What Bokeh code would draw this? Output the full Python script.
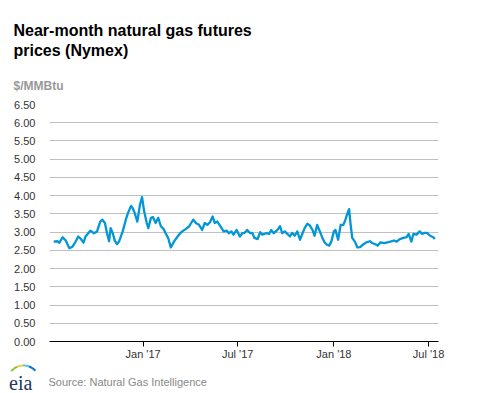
import numpy as np
import pandas as pd
from bokeh.plotting import figure
from bokeh.layouts import column
from bokeh.models import (Range1d, FixedTicker, NumeralTickFormatter, DatetimeTickFormatter, Label)
from bokeh.embed import file_html
from bokeh.resources import INLINE

# ---- data ----
dates = [
    "2016-07-14", "2016-07-21", "2016-07-25", "2016-07-31", "2016-08-06", "2016-08-13", "2016-08-19",
    "2016-08-25", "2016-08-30", "2016-09-04", "2016-09-09", "2016-09-13", "2016-09-22", "2016-09-29",
    "2016-10-05", "2016-10-11", "2016-10-15", "2016-10-20", "2016-10-24", "2016-10-28", "2016-10-31",
    "2016-11-04", "2016-11-08", "2016-11-12", "2016-11-16", "2016-11-23", "2016-11-29", "2016-12-03",
    "2016-12-09", "2016-12-12", "2016-12-16", "2016-12-21", "2016-12-26", "2016-12-30", "2017-01-03",
    "2017-01-08", "2017-01-11", "2017-01-16", "2017-01-20", "2017-01-25", "2017-01-30", "2017-02-04",
    "2017-02-09", "2017-02-13", "2017-02-18", "2017-02-23", "2017-03-01", "2017-03-08", "2017-03-13",
    "2017-03-17", "2017-03-24", "2017-03-30", "2017-04-03", "2017-04-07", "2017-04-12", "2017-04-18",
    "2017-04-24", "2017-04-29", "2017-05-04", "2017-05-09", "2017-05-14", "2017-05-18", "2017-05-23",
    "2017-05-29", "2017-06-04", "2017-06-10", "2017-06-14", "2017-06-19", "2017-06-23", "2017-06-29",
    "2017-07-05", "2017-07-10", "2017-07-14", "2017-07-19", "2017-07-25", "2017-07-29", "2017-08-02",
    "2017-08-08", "2017-08-13", "2017-08-17", "2017-08-24", "2017-08-30", "2017-09-03", "2017-09-08",
    "2017-09-15", "2017-09-20", "2017-09-24", "2017-09-29", "2017-10-04", "2017-10-09", "2017-10-13",
    "2017-10-18", "2017-10-23", "2017-10-28", "2017-11-02", "2017-11-06", "2017-11-11", "2017-11-16",
    "2017-11-21", "2017-11-25", "2017-11-30", "2017-12-05", "2017-12-10", "2017-12-14", "2017-12-18",
    "2017-12-23", "2017-12-27", "2018-01-01", "2018-01-04", "2018-01-09", "2018-01-14", "2018-01-19",
    "2018-01-23", "2018-01-27", "2018-01-30", "2018-02-02", "2018-02-05", "2018-02-10", "2018-02-15",
    "2018-02-20", "2018-02-26", "2018-03-04", "2018-03-11", "2018-03-15", "2018-03-22", "2018-03-26",
    "2018-03-31", "2018-04-07", "2018-04-13", "2018-04-19", "2018-04-26", "2018-05-01", "2018-05-07",
    "2018-05-14", "2018-05-20", "2018-05-24", "2018-05-29", "2018-06-02", "2018-06-08", "2018-06-14",
    "2018-06-19", "2018-06-23", "2018-06-28", "2018-07-04", "2018-07-10", "2018-07-13",
]
prices = [
    2.74, 2.75, 2.71, 2.86, 2.77, 2.56, 2.60,
    2.74, 2.88, 2.81, 2.71, 2.88, 3.04, 2.97,
    3.02, 3.29, 3.34, 3.25, 2.97, 2.75, 3.11,
    2.97, 2.76, 2.67, 2.74, 3.02, 3.34, 3.52,
    3.72, 3.66, 3.52, 3.29, 3.75, 3.96, 3.57,
    3.25, 3.11, 3.39, 3.41, 3.25, 3.39, 3.16,
    3.09, 2.97, 2.84, 2.58, 2.74, 2.88, 2.97,
    3.02, 3.09, 3.16, 3.25, 3.34, 3.25, 3.20,
    3.06, 3.25, 3.20, 3.27, 3.43, 3.25, 3.29,
    3.16, 3.02, 3.04, 2.97, 3.02, 2.93, 3.06,
    2.88, 2.97, 2.98, 3.06, 2.97, 2.98, 2.84,
    2.81, 3.00, 2.93, 2.97, 2.95, 3.06, 2.97,
    3.06, 3.16, 2.97, 3.02, 2.95, 2.88, 2.98,
    2.90, 3.02, 2.79, 2.97, 3.11, 3.23, 3.18,
    3.06, 2.90, 3.20, 3.02, 2.84, 2.72, 2.66,
    2.63, 2.74, 3.02, 3.06, 2.79, 3.20, 3.20,
    3.34, 3.52, 3.63, 3.20, 2.84, 2.74, 2.58,
    2.59, 2.66, 2.72, 2.75, 2.70, 2.66, 2.63,
    2.72, 2.70, 2.72, 2.74, 2.77, 2.74, 2.81,
    2.84, 2.86, 2.95, 2.74, 2.95, 2.93, 3.02,
    2.95, 2.98, 2.98, 2.90, 2.86, 2.81,
]
y_ticks = [0.0, 0.5, 1.0, 1.5, 2.0, 2.5, 3.0, 3.5, 4.0, 4.5, 5.0, 5.5, 6.0, 6.5]
x_tick_dates = ["2017-01-01", "2017-07-01", "2018-01-01", "2018-07-01"]
x_tick_labels = ["Jan '17", "Jul '17", "Jan '18", "Jul '18"]
x_start, x_end = "2016-07-06", "2018-07-20"

title_lines = ["Near-month natural gas futures", "prices (Nymex)"]
unit_label = "$/MMBtu"
source_text = "Source: Natural Gas Intelligence"

FONT = "Liberation Sans"
W = 477


def ms(d):
    return float(pd.Timestamp(d).value // 10**6)


def blank(height):
    f = figure(width=W, height=height, output_backend="svg", toolbar_location=None, title=None,
               x_range=Range1d(0, W), y_range=Range1d(height, 0),
               x_axis_location=None, y_axis_location=None, frame_align=False,
               min_border_left=0, min_border_right=0, min_border_top=0, min_border_bottom=0)
    f.grid.visible = False
    f.outline_line_color = None
    f.background_fill_color = "white"
    f.border_fill_color = "white"
    return f


# ---- header ----
HH = 96
head = blank(HH)
head.add_layout(Label(x=13, y=30, text=title_lines[0], text_font=FONT, text_font_style="bold",
                      text_font_size="16px", text_color="black", text_baseline="alphabetic"))
head.add_layout(Label(x=13, y=49.5, text=title_lines[1], text_font=FONT, text_font_style="bold",
                      text_font_size="16px", text_color="black", text_baseline="alphabetic"))
head.add_layout(Label(x=13, y=85.5, text=unit_label, text_font=FONT, text_font_style="bold",
                      text_font_size="12px", text_color="#999999", text_baseline="alphabetic"))

# ---- main plot ----
x = pd.to_datetime(dates)
p = figure(width=W, height=266, output_backend="svg", toolbar_location=None, title=None,
           x_axis_type="datetime", frame_align=False,
           x_range=Range1d(pd.Timestamp(x_start), pd.Timestamp(x_end)),
           y_range=Range1d(0, 6.5),
           min_border_left=49, min_border_right=39, min_border_top=8, min_border_bottom=20)
p.outline_line_color = None
p.background_fill_color = "white"
p.border_fill_color = "white"

p.line(x, prices, line_color="#0096d7", line_width=2.3, line_join="round")

p.yaxis.ticker = FixedTicker(ticks=y_ticks)
p.yaxis.formatter = NumeralTickFormatter(format="0.00")
p.yaxis.axis_line_color = None
p.yaxis.major_tick_line_color = None
p.yaxis.minor_tick_line_color = None
p.yaxis.major_label_standoff = 8
p.yaxis.major_label_text_font = FONT
p.yaxis.major_label_text_font_size = "11px"
p.yaxis.major_label_text_color = "#333333"
p.ygrid.ticker = FixedTicker(ticks=y_ticks[1:])
p.ygrid.grid_line_color = "#c0c0c0"
p.ygrid.grid_line_width = 1
p.xgrid.grid_line_color = None

tick_ms = [ms(d) for d in x_tick_dates]
p.xaxis.ticker = FixedTicker(ticks=tick_ms)
p.xaxis.formatter = DatetimeTickFormatter(days="%b '%y", months="%b '%y", years="%b '%y")
p.xaxis.major_label_overrides = {t: l for t, l in zip(tick_ms, x_tick_labels)}
p.xaxis.axis_line_color = "black"
p.xaxis.axis_line_width = 1
p.xaxis.major_tick_line_color = "black"
p.xaxis.major_tick_in = 0
p.xaxis.major_tick_out = 5
p.xaxis.minor_tick_line_color = None
p.xaxis.major_label_standoff = 1
p.xaxis.major_label_text_font = FONT
p.xaxis.major_label_text_font_size = "11px"
p.xaxis.major_label_text_color = "#333333"

# ---- footer ----
FH = 30
foot = blank(FH)
foot.add_layout(Label(x=48, y=19, text=source_text, text_font=FONT, text_font_size="11px",
                      text_color="#888888", text_baseline="alphabetic"))
foot.add_layout(Label(x=8.5, y=20, text="eia", text_font="Liberation Serif", text_font_size="20px",
                      text_color="#22385f", text_baseline="alphabetic"))
cx, cy = 23.0, 19.0
for a0, a1, col in [(140, 112, "#8dc63f"), (112, 92, "#f2cf3b"), (92, 70, "#5bc2e7"), (70, 42, "#0a78c2")]:
    th = np.radians(np.linspace(a0, a1, 12))
    xs = list(cx + 17 * np.cos(th)) + list(cx + 15 * np.cos(th[::-1]))
    ys = list(cy - 17 * np.sin(th)) + list(cy - 15 * np.sin(th[::-1]))
    foot.patch(xs, ys, fill_color=col, line_color=None)

layout = column(head, p, foot, spacing=0)
open("out.html", "w").write(file_html(layout, INLINE))
